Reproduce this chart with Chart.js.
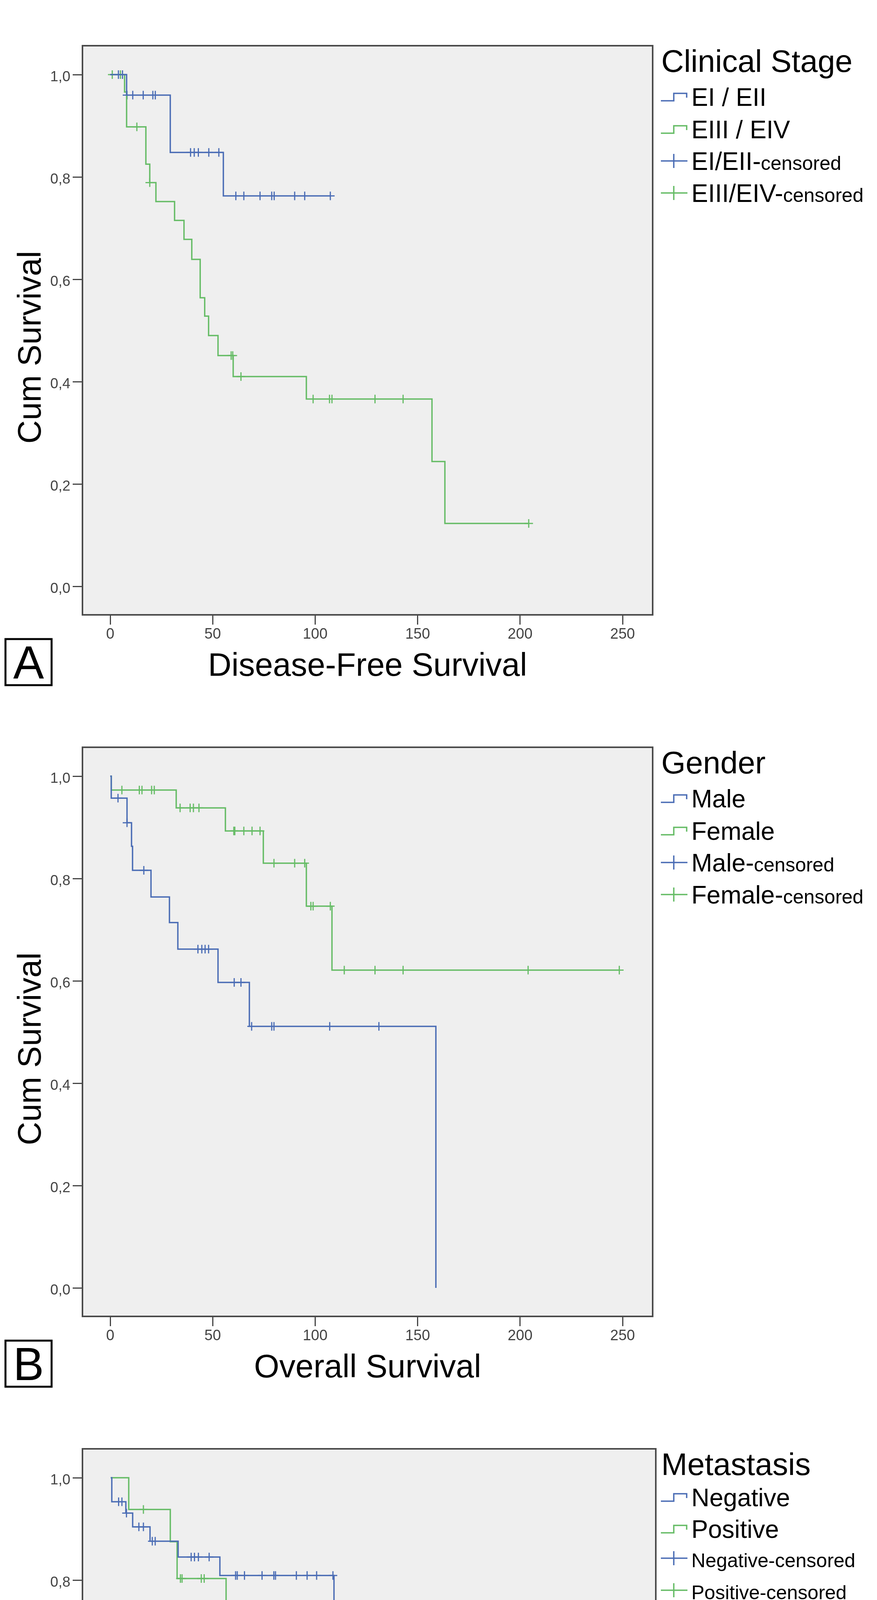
<!DOCTYPE html>
<html><head><meta charset="utf-8">
<script src="https://cdn.jsdelivr.net/npm/chart.js@4.4.1/dist/chart.umd.min.js"></script>
<style>
html,body{margin:0;padding:0;background:#fff}
#wrap{position:relative;width:2244px;height:5381px;overflow:hidden;background:#fff}
canvas{position:absolute;left:0}
</style>
</head><body><div id="wrap">
<canvas id="chartA" width="2244" height="1789" style="top:0px;width:2244px;height:1789px"></canvas>
<canvas id="chartB" width="2244" height="1789" style="top:1796px;width:2244px;height:1789px"></canvas>
<canvas id="chartC" width="2244" height="1789" style="top:3592px;width:2244px;height:1789px"></canvas>
</div>
<script>
// ---------- tick labels ----------
const xTicks = [0, 50, 100, 150, 200, 250];
const yTicks = [0, 0.2, 0.4, 0.6, 0.8, 1.0];

// ---------- Panel A: Disease-Free Survival by Clinical Stage ----------
const aLetter = 'A';
const aTitle = 'Clinical Stage';
const aSeries = ['EI / EII', 'EIII / EIV'];
const aCensored = ['EI/EII-censored', 'EIII/EIV-censored'];
const aXTitle = 'Disease-Free Survival';
const aBlueT = [0, 8, 29.3, 55.2, 107.4];
const aBlueS = [1, 0.960, 0.848, 0.763, 0.763];
const aGreenT = [0, 7, 8, 17.4, 19.3, 22.3, 31.4, 36.0, 39.8, 43.9, 46.1, 48.0, 52.6, 60.0, 95.7, 157.0, 163.3, 204.2];
const aGreenS = [1, 0.966, 0.898, 0.825, 0.789, 0.752, 0.715, 0.678, 0.639, 0.564, 0.528, 0.490, 0.451, 0.410, 0.366, 0.244, 0.123, 0.123];
const aBlueCT = [4, 6, 8.2, 11, 16.1, 20.8, 22, 39.2, 41, 43, 48.1, 53, 61.3, 65.2, 73.1, 78.8, 80, 90, 94.9, 107.4];
const aBlueCS = [1, 1, 0.960, 0.960, 0.960, 0.960, 0.960, 0.848, 0.848, 0.848, 0.848, 0.848, 0.763, 0.763, 0.763, 0.763, 0.763, 0.763, 0.763, 0.763];
const aGreenCT = [1, 5, 13, 19.3, 59, 59.8, 63.8, 99, 107, 108.2, 129.2, 142.9, 204.2];
const aGreenCS = [1, 1, 0.898, 0.789, 0.451, 0.451, 0.410, 0.366, 0.366, 0.366, 0.366, 0.366, 0.123];

// ---------- Panel B: Overall Survival by Gender ----------
const bLetter = 'B';
const bTitle = 'Gender';
const bSeries = ['Male', 'Female'];
const bCensored = ['Male-censored', 'Female-censored'];
const bXTitle = 'Overall Survival';
const bBlueT = [0, 0.5, 8.2, 10.4, 10.9, 19.9, 28.9, 33.0, 52.6, 67.9, 158.9];
const bBlueS = [1, 0.957, 0.909, 0.863, 0.816, 0.764, 0.714, 0.662, 0.597, 0.511, 0];
const bGreenT = [0, 0.5, 32.2, 56.2, 74.7, 95.7, 108.2, 248.4];
const bGreenS = [1, 0.973, 0.938, 0.893, 0.830, 0.746, 0.621, 0.621];
const bBlueCT = [3.8, 8.2, 16.4, 42.8, 44.7, 46.3, 48.0, 60.5, 63.8, 69.0, 78.8, 79.9, 107.1, 131.1];
const bBlueCS = [0.957, 0.909, 0.816, 0.662, 0.662, 0.662, 0.662, 0.597, 0.597, 0.511, 0.511, 0.511, 0.511, 0.511];
const bGreenCT = [5.7, 14.2, 15.5, 20.2, 21.5, 34.1, 39, 40.6, 43.3, 60.3, 60.8, 65.2, 69.2, 73.1, 79.9, 90.0, 94.9, 97.9, 99.0, 107.4, 114.2, 129.2, 142.9, 203.9, 248.4];
const bGreenCS = [0.973, 0.973, 0.973, 0.973, 0.973, 0.938, 0.938, 0.938, 0.938, 0.893, 0.893, 0.893, 0.893, 0.893, 0.830, 0.830, 0.830, 0.746, 0.746, 0.746, 0.621, 0.621, 0.621, 0.621, 0.621];

// ---------- Panel C: Overall Survival by Metastasis ----------
const cLetter = 'C';
const cTitle = 'Metastasis';
const cSeries = ['Negative', 'Positive'];
const cCensored = ['Negative-censored', 'Positive-censored'];
const cXTitle = 'Overall Survival';
const cBlueT = [0, 0.5, 7.3, 10.6, 19.0, 32.6, 52.8, 108.0, 248.6];
const cBlueS = [1, 0.953, 0.931, 0.904, 0.876, 0.845, 0.809, 0.693, 0.693];
const cGreenT = [0, 8.7, 28.8, 32.1, 55.8, 68.0, 74.8, 95.8, 159.1];
const cGreenS = [1, 0.938, 0.875, 0.803, 0.705, 0.602, 0.452, 0.302, 0];
const cBlueCT = [3.8, 5.4, 7.6, 13.6, 15.8, 20.1, 21.5, 38.9, 40.5, 42.4, 47.6, 60.4, 61.2, 64.7, 73.2, 78.9, 79.7, 89.8, 95, 99.6, 107.5, 114, 129.5, 131.1, 143.1, 204.3, 248.6];
const cBlueCS = [0.953, 0.953, 0.931, 0.904, 0.904, 0.876, 0.876, 0.845, 0.845, 0.845, 0.845, 0.809, 0.809, 0.809, 0.809, 0.809, 0.809, 0.809, 0.809, 0.809, 0.809, 0.693, 0.693, 0.693, 0.693, 0.693, 0.693];
const cGreenCT = [15.8, 33.7, 34.5, 43.8, 45.2, 68.3, 69.1, 97.7];
const cGreenCS = [0.938, 0.803, 0.803, 0.803, 0.803, 0.602, 0.602, 0.302];

// ---------- styling ----------
const FONT = "'Liberation Sans', Arial, Helvetica, sans-serif";
const BLUE = '#4b6db5';
const GREEN = '#66bc66';

function pts(t, s) { return t.map((x, i) => ({ x: x, y: s[i] })); }

function makePanel(id, p) {
  const areaLeft = 211, areaTop = 117;
  const decor = {
    id: 'kmDecor' + id,
    beforeDraw(chart) {
      const { ctx, chartArea: a } = chart;
      ctx.save();
      ctx.fillStyle = '#efefef';
      ctx.fillRect(a.left, a.top, a.right - a.left, a.bottom - a.top);
      ctx.restore();
    },
    afterDraw(chart) {
      const { ctx, chartArea: a } = chart;
      ctx.save();
      // frame
      ctx.strokeStyle = '#4a4a4a';
      ctx.lineWidth = 4;
      ctx.strokeRect(a.left, a.top, a.right - a.left, a.bottom - a.top);
      // y axis title
      ctx.save();
      ctx.translate(104, 889);
      ctx.rotate(-Math.PI / 2);
      ctx.fillStyle = '#000';
      ctx.font = '83px ' + FONT;
      ctx.textAlign = 'center';
      ctx.textBaseline = 'alphabetic';
      ctx.fillText('Cum Survival', 0, 0);
      ctx.restore();
      // legend
      const lx = 1692, ix0 = 1691, ix1 = 1757, imid = 1724, tx = 1769;
      ctx.fillStyle = '#000';
      ctx.textAlign = 'left';
      ctx.textBaseline = 'alphabetic';
      ctx.font = '80px ' + FONT;
      ctx.fillText(p.title, lx, 184);
      const base = p.legendBase;
      const colors = [BLUE, GREEN, BLUE, GREEN];
      const labels = [p.series[0], p.series[1], p.censored[0], p.censored[1]];
      ctx.lineWidth = 3.5;
      for (let i = 0; i < 4; i++) {
        const b = base[i];
        ctx.strokeStyle = colors[i];
        ctx.beginPath();
        if (i < 2) {
          ctx.moveTo(ix0, b - 13); ctx.lineTo(imid, b - 13); ctx.lineTo(imid, b - 32);
          ctx.lineTo(ix1, b - 32); ctx.lineTo(ix1, b - 21);
        } else {
          ctx.moveTo(ix0, b - 23); ctx.lineTo(ix1 + 2, b - 23);
          ctx.moveTo(imid, b - 41); ctx.lineTo(imid, b - 5);
        }
        ctx.stroke();
        ctx.fillStyle = '#000';
        if (i < 2) {
          ctx.font = '64px ' + FONT;
          ctx.fillText(labels[i], tx, b);
        } else if (p.censorWhole) {
          ctx.font = '50px ' + FONT;
          ctx.fillText(labels[i], tx, b);
        } else {
          const k = labels[i].lastIndexOf('-') + 1;
          const main = labels[i].slice(0, k), small = labels[i].slice(k);
          ctx.font = '64px ' + FONT;
          ctx.fillText(main, tx, b);
          const w = ctx.measureText(main).width;
          ctx.font = '50px ' + FONT;
          ctx.fillText(small, tx + w, b);
        }
      }
      // panel letter box
      ctx.strokeStyle = '#000';
      ctx.lineWidth = 5;
      ctx.strokeRect(14, 1636, 118, 118);
      ctx.fillStyle = '#000';
      ctx.font = '118px ' + FONT;
      ctx.textAlign = 'center';
      ctx.fillText(p.letter, 73, 1737);
      ctx.restore();
    }
  };

  const lineDs = (label, t, s, color) => ({
    label: label, data: pts(t, s), borderColor: color, backgroundColor: color,
    showLine: true, stepped: true, borderWidth: 3.5, pointRadius: 0, pointHoverRadius: 0,
    fill: false, borderCapStyle: 'butt', borderJoinStyle: 'miter'
  });
  const censorDs = (label, t, s, color) => ({
    label: label, data: pts(t, s), borderColor: color, backgroundColor: color,
    showLine: false, pointStyle: 'cross', pointRadius: 11, pointHoverRadius: 11,
    pointBorderWidth: 3, pointBorderColor: color
  });

  new Chart(document.getElementById(id), {
    type: 'line',
    data: {
      datasets: [
        lineDs(p.series[0], p.blueT, p.blueS, BLUE),
        lineDs(p.series[1], p.greenT, p.greenS, GREEN),
        censorDs(p.censored[0], p.blueCT, p.blueCS, BLUE),
        censorDs(p.censored[1], p.greenCT, p.greenCS, GREEN)
      ]
    },
    options: {
      responsive: false,
      animation: false,
      devicePixelRatio: 1,
      events: [],
      layout: { padding: { left: 0, top: areaTop, right: 2244 - p.areaRight, bottom: 40.5 } },
      plugins: { legend: { display: false }, tooltip: { enabled: false }, title: { display: false } },
      scales: {
        x: {
          type: 'linear', position: 'bottom', min: p.xMin, max: p.xMax,
          afterBuildTicks: (s) => { s.ticks = xTicks.map(v => ({ value: v })); },
          afterFit: (s) => { s.height = 174.5; },
          ticks: {
            autoSkip: false, maxRotation: 0, minRotation: 0, padding: 3, color: '#444',
            font: { family: FONT, size: 38 },
            callback: (v) => String(v)
          },
          grid: { display: true, drawOnChartArea: false, drawTicks: true, tickLength: 25, color: '#444', lineWidth: 3 },
          border: { display: false },
          title: { display: true, text: p.xTitle, color: '#000', padding: 0, font: { family: FONT, size: 83, lineHeight: 1 } }
        },
        y: {
          type: 'linear', position: 'left', min: -0.0557, max: 1.0565,
          afterBuildTicks: (s) => { s.ticks = yTicks.map(v => ({ value: v })); },
          afterFit: (s) => { s.width = areaLeft; },
          ticks: {
            padding: 6, color: '#444', labelOffset: 7,
            font: { family: FONT, size: 37 },
            callback: (v) => Number(v).toFixed(1).replace('.', ',')
          },
          grid: { display: true, drawOnChartArea: false, drawTicks: true, tickLength: 25, color: '#444', lineWidth: 3 },
          border: { display: false },
          title: { display: false }
        }
      }
    },
    plugins: [decor]
  });
}

makePanel('chartA', {
  letter: aLetter, title: aTitle, series: aSeries, censored: aCensored, xTitle: aXTitle,
  blueT: aBlueT, blueS: aBlueS, greenT: aGreenT, greenS: aGreenS,
  blueCT: aBlueCT, blueCS: aBlueCS, greenCT: aGreenCT, greenCS: aGreenCS,
  xMin: -13.54, xMax: 264.68, areaRight: 1670, legendBase: [271, 354, 435, 517], censorWhole: false
});
makePanel('chartB', {
  letter: bLetter, title: bTitle, series: bSeries, censored: bCensored, xTitle: bXTitle,
  blueT: bBlueT, blueS: bBlueS, greenT: bGreenT, greenS: bGreenS,
  blueCT: bBlueCT, blueCS: bBlueCS, greenCT: bGreenCT, greenCS: bGreenCS,
  xMin: -13.54, xMax: 264.68, areaRight: 1670, legendBase: [271, 354, 435, 517], censorWhole: false
});
makePanel('chartC', {
  letter: cLetter, title: cTitle, series: cSeries, censored: cCensored, xTitle: cXTitle,
  blueT: cBlueT, blueS: cBlueS, greenT: cGreenT, greenS: cGreenS,
  blueCT: cBlueCT, blueCS: cBlueCS, greenCT: cGreenCT, greenCS: cGreenCS,
  xMin: -13.69, xMax: 263.7, areaRight: 1678, legendBase: [264, 345, 420, 502], censorWhole: true
});
</script></body></html>
